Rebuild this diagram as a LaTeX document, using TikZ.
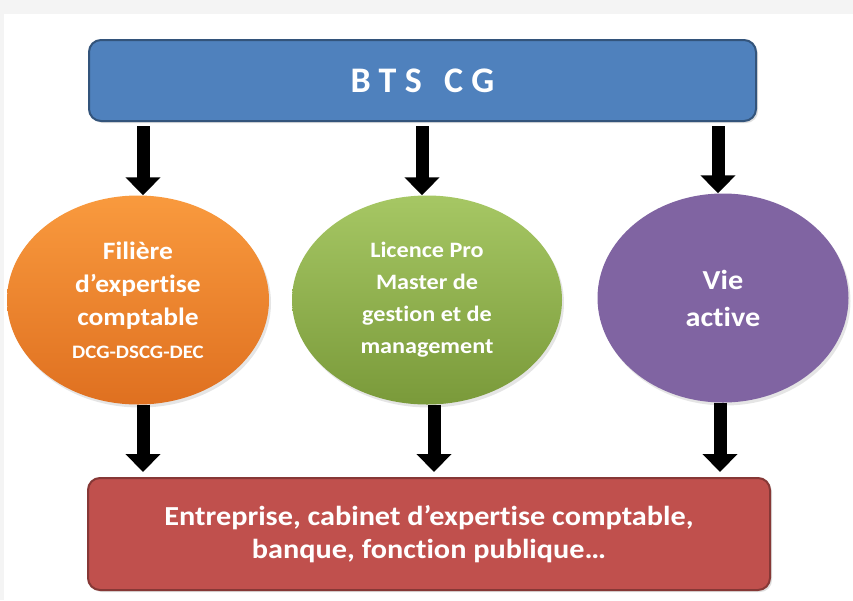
\documentclass[tikz,border=0pt]{standalone}
\usepackage{fontspec}
\setmainfont{Carlito}[FakeStretch=1.1,Ligatures=NoCommon]
\newfontfamily\btsfont{Carlito}
\usetikzlibrary{shapes.geometric,arrows.meta,shadows}
\definecolor{bblue}{HTML}{4F81BD}
\definecolor{borange}{HTML}{F99A3E}
\definecolor{dorange}{HTML}{DF7020}
\definecolor{bgreen}{HTML}{A6C764}
\definecolor{dgreen}{HTML}{7A9A3A}
\definecolor{bpurple}{HTML}{8064A2}
\definecolor{bred}{HTML}{C0504D}
\definecolor{bggray}{HTML}{F4F4F4}
\begin{document}
\begin{tikzpicture}[x=1pt,y=-1pt,
  bar/.style={rectangle,rounded corners=12pt,inner sep=0pt,align=center,text=white,
    drop shadow={opacity=0.25,shadow xshift=2pt,shadow yshift=-2pt}},
  ell/.style={ellipse,inner sep=0pt,align=center,text=white,
    drop shadow={opacity=0.2,shadow xshift=2pt,shadow yshift=-3pt}},
  arr/.style={line width=13pt,-{Triangle[width=34pt,length=18pt]}}]
\useasboundingbox (0,0) rectangle (853,600);
\fill[bggray] (0,0) rectangle (853,600);
\fill[white] (4,14) rectangle (853,600);
\node[bar,fill=bblue,draw=bblue!65!black,line width=2pt,minimum width=667pt,minimum height=81pt,
  font=\btsfont\bfseries\fontsize{36}{40}\selectfont] (top) at (422.5,80.5)
  {\addfontfeature{LetterSpace=24}BTS\kern 22pt CG};
\node[ell,top color=borange,bottom color=dorange,minimum width=262pt,minimum height=209pt,
  font=\bfseries\fontsize{25}{33}\selectfont] (o) at (138,300)
  {Filière\\ d’expertise\\ comptable\\ {\fontsize{19}{28}\selectfont DCG-DSCG-DEC}};
\node[ell,top color=bgreen,bottom color=dgreen,minimum width=270pt,minimum height=209pt,
  font=\bfseries\fontsize{22}{32}\selectfont] (g) at (427,300)
  {Licence Pro\\ Master de\\ gestion et de\\ management};
\node[ell,fill=bpurple,minimum width=251pt,minimum height=209pt,
  font=\bfseries\fontsize{27.5}{37}\selectfont] (p) at (723,298)
  {Vie\\ active};
\node[bar,fill=bred,draw=bred!70!black,line width=2pt,minimum width=682pt,minimum height=112pt,
  font=\bfseries\fontsize{27.5}{33}\selectfont] (bot) at (429,534)
  {Entreprise, cabinet d’expertise comptable,\\ banque, fonction publique…};
\coordinate (t1) at (143,126); \coordinate (t2) at (422,126); \coordinate (t3) at (718,126);
\draw[arr] (t1) -- (t1 |- o.north);
\draw[arr] (t2) -- (t2 |- g.north);
\draw[arr] (t3) -- (t3 |- p.north);
\coordinate (b1) at (143,472); \coordinate (b2) at (434,472); \coordinate (b3) at (720,472);
\draw[arr] (b1 |- o.south) -- (b1);
\draw[arr] (b2 |- g.south) -- (b2);
\draw[arr] (b3 |- p.south) -- (b3);
\end{tikzpicture}
\end{document}
